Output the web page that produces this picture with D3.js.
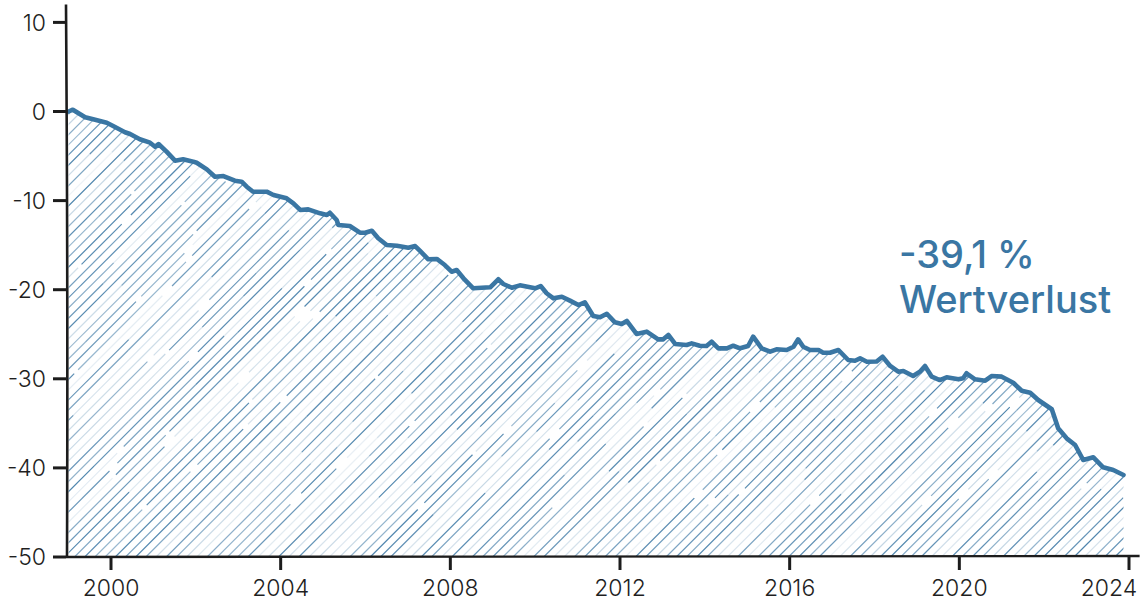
<!DOCTYPE html>
<html>
<head>
<meta charset="utf-8">
<script src="https://cdn.jsdelivr.net/npm/d3@7"></script>
<style>
  html, body { margin: 0; padding: 0; background: #fff; }
  svg { display: block; }
  .tick-label { font-family: Inter, "Noto Sans", sans-serif; font-weight: 300; font-size: 23px; fill: #1f1f1f; }
  .note { font-family: Inter, "Noto Sans", sans-serif; font-weight: 500; font-size: 38px; fill: #3a76a3; }
</style>
</head>
<body>
<div id="chart"></div>
<script>
// Wertverlust in % (decimal year, value)
const years = [
  1999.0, 1999.1, 1999.39, 1999.58, 1999.9, 2000.05, 2000.33, 2000.45, 2000.68, 2000.92,
  2001.04, 2001.12, 2001.31, 2001.51, 2001.7, 2001.94, 2002.02, 2002.26, 2002.45, 2002.65,
  2002.92, 2003.08, 2003.2, 2003.35, 2003.67, 2003.83, 2004.14, 2004.3, 2004.46, 2004.65,
  2004.93, 2005.09, 2005.16, 2005.32, 2005.36, 2005.63, 2005.87, 2005.99, 2006.15, 2006.3,
  2006.5, 2006.74, 2007.01, 2007.17, 2007.28, 2007.48, 2007.68, 2007.87, 2008.03, 2008.15,
  2008.31, 2008.54, 2008.74, 2008.94, 2009.13, 2009.25, 2009.45, 2009.64, 2009.88, 2010.0,
  2010.13, 2010.27, 2010.43, 2010.63, 2010.82, 2011.02, 2011.17, 2011.37, 2011.53, 2011.69,
  2011.88, 2012.04, 2012.16, 2012.39, 2012.63, 2012.9, 2013.02, 2013.14, 2013.3, 2013.57,
  2013.69, 2013.88, 2014.04, 2014.16, 2014.32, 2014.52, 2014.67, 2014.83, 2015.02, 2015.14,
  2015.34, 2015.54, 2015.69, 2015.93, 2016.09, 2016.2, 2016.32, 2016.48, 2016.68, 2016.79,
  2016.95, 2017.15, 2017.38, 2017.54, 2017.66, 2017.82, 2018.05, 2018.19, 2018.37, 2018.56,
  2018.68, 2018.91, 2019.07, 2019.19, 2019.35, 2019.54, 2019.7, 2019.98, 2020.09, 2020.17,
  2020.37, 2020.61, 2020.76, 2021.0, 2021.27, 2021.47, 2021.67, 2021.86, 2022.18, 2022.33,
  2022.53, 2022.73, 2022.92, 2023.16, 2023.39, 2023.63, 2023.87
];
const values = [
  0.0, 0.2, -0.65, -0.88, -1.26, -1.63, -2.33, -2.53, -3.12, -3.5,
  -3.95, -3.65, -4.51, -5.52, -5.36, -5.63, -5.75, -6.49, -7.32, -7.24,
  -7.77, -7.88, -8.44, -9.0, -9.0, -9.37, -9.74, -10.3, -11.05, -10.98,
  -11.43, -11.62, -11.36, -12.18, -12.74, -12.85, -13.6, -13.6, -13.38, -14.23,
  -14.98, -15.06, -15.29, -15.1, -15.62, -16.59, -16.55, -17.23, -17.98, -17.79,
  -18.72, -19.84, -19.78, -19.73, -18.83, -19.36, -19.78, -19.51, -19.73, -19.84,
  -19.59, -20.4, -20.97, -20.79, -21.23, -21.72, -21.41, -22.95, -23.1, -22.7,
  -23.66, -23.85, -23.51, -24.97, -24.71, -25.57, -25.57, -25.08, -26.09, -26.21,
  -26.02, -26.29, -26.32, -25.84, -26.58, -26.58, -26.29, -26.58, -26.32, -25.27,
  -26.58, -26.96, -26.69, -26.77, -26.4, -25.57, -26.4, -26.77, -26.77, -27.07,
  -27.07, -26.77, -27.89, -27.97, -27.7, -28.08, -28.06, -27.52, -28.56, -29.2,
  -29.12, -29.69, -29.2, -28.56, -29.76, -30.14, -29.83, -30.06, -29.94, -29.38,
  -30.06, -30.21, -29.69, -29.76, -30.44, -31.34, -31.56, -32.38, -33.42, -35.56,
  -36.68, -37.43, -39.11, -38.81, -39.93, -40.24, -40.8
];
const yTicks = [10, 0, -10, -20, -30, -40, -50];
const xTicks = [2000, 2004, 2008, 2012, 2016, 2020, 2024];
const noteLines = ['-39,1 %', 'Wertverlust'];

const width = 1148, height = 603;
const blue = '#3a76a3';
const ink = '#1c1c1c';

const data = years.map((yr, i) => ({ year: yr, value: values[i] }));

const x = d3.scaleLinear().domain([2000, 2024]).range([111, 1129]);
const y = d3.scaleLinear().domain([0, -50]).range([111.5, 557]);

const svg = d3.select('#chart').append('svg')
  .attr('width', width)
  .attr('height', height);

const defs = svg.append('defs');

const area = d3.area()
  .x(d => x(d.year))
  .y0(y(-50))
  .y1(d => y(d.value));

const line = d3.line()
  .x(d => x(d.year))
  .y(d => y(d.value));

defs.append('clipPath').attr('id', 'area-clip')
  .append('path')
  .attr('d', area(data));

// hatching, sketchy: segments with varying opacity (deterministic)
let seed = 7;
const rnd = () => { seed = (seed * 16807) % 2147483647; return (seed - 1) / 2147483646; };

const hatch = svg.append('g').attr('clip-path', 'url(#area-clip)');
const hTop = y(2), hBottom = y(-50);
const span = hBottom - hTop;
const hLeft = x(years[0]) - span, hRight = x(years[years.length - 1]);
for (let sx = hLeft; sx < hRight + 10; sx += 10.2) {
  let t = 0;
  while (t < span) {
    const len = 40 + rnd() * 110;
    const t2 = Math.min(span, t + len);
    const op = rnd() < 0.3 ? 0.1 + rnd() * 0.2 : 0.5 + rnd() * 0.4;
    hatch.append('line')
      .attr('x1', sx + t).attr('y1', hBottom - t)
      .attr('x2', sx + t2).attr('y2', hBottom - t2)
      .attr('stroke', blue)
      .attr('stroke-width', 1.2)
      .attr('stroke-opacity', op);
    t = t2 + (rnd() < 0.3 ? 3 + rnd() * 8 : 0);
  }
}

// line
svg.append('path')
  .datum(data)
  .attr('d', line)
  .attr('fill', 'none')
  .attr('stroke', blue)
  .attr('stroke-width', 4.6)
  .attr('stroke-linejoin', 'round')
  .attr('stroke-linecap', 'round');

// axes, drawn by hand-ish
const axisX0 = 66;
svg.append('path')
  .attr('d', `M${axisX0},${y(12)} Q${axisX0 + 2},${y(-20)} ${axisX0 + 1},${y(-50)}`)
  .attr('fill', 'none').attr('stroke', ink).attr('stroke-width', 2.6);
svg.append('path')
  .attr('d', `M${axisX0},${y(-50)} Q${x(2010)},${y(-50) - 2} ${x(2024.25)},${y(-50) - 1}`)
  .attr('fill', 'none').attr('stroke', ink).attr('stroke-width', 2.4);

const yAxis = svg.append('g');
yAxis.selectAll('line').data(yTicks).enter().append('line')
  .attr('x1', 53).attr('x2', axisX0)
  .attr('y1', d => y(d)).attr('y2', d => y(d))
  .attr('stroke', ink).attr('stroke-width', 3);
yAxis.selectAll('text').data(yTicks).enter().append('text')
  .attr('class', 'tick-label')
  .attr('x', 46)
  .attr('y', d => y(d))
  .attr('dy', '0.36em')
  .attr('text-anchor', 'end')
  .text(d => String(d));

const xAxis = svg.append('g');
xAxis.selectAll('line').data(xTicks).enter().append('line')
  .attr('x1', d => x(d)).attr('x2', d => x(d))
  .attr('y1', y(-50)).attr('y2', y(-50) + 13)
  .attr('stroke', ink).attr('stroke-width', 3);
xAxis.selectAll('text').data(xTicks).enter().append('text')
  .attr('class', 'tick-label')
  .attr('x', d => Math.min(x(d), width - 39))
  .attr('y', 596)
  .attr('text-anchor', 'middle')
  .text(d => String(d));

// annotation
svg.append('text')
  .attr('class', 'note')
  .selectAll('tspan').data(noteLines).enter().append('tspan')
  .attr('x', 899)
  .attr('y', (d, i) => 268 + i * 45)
  .text(d => d);
</script>
</body>
</html>
